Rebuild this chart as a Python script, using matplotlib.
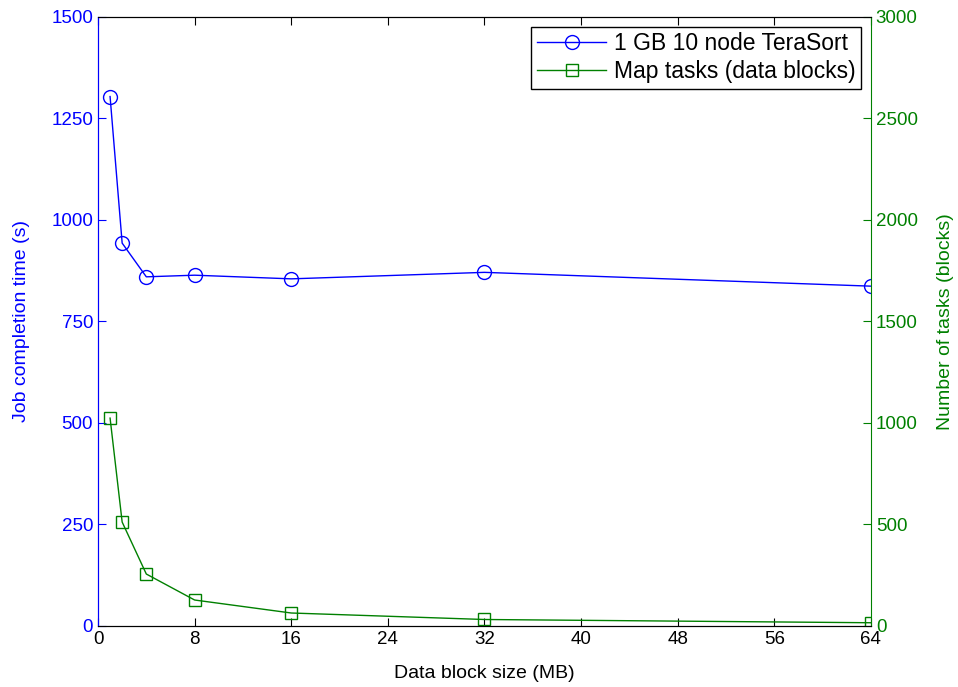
import matplotlib
matplotlib.use('Agg')
import matplotlib.pyplot as plt

plt.rcParams['font.family'] = ['Liberation Sans', 'DejaVu Sans']

# block sizes (MB) and measurements
block_mb = [1, 2, 4, 8, 16, 32, 64]
job_time = [1304, 943, 860, 864, 855, 871, 837]
map_tasks = [1024, 512, 256, 128, 64, 32, 16]

blue = '#0000ff'
green = '#008000'

fig = plt.figure(figsize=(9.58, 6.87), dpi=100)
ax = fig.add_axes([0.1023, 0.0888, 0.8068, 0.8865])
ax2 = ax.twinx()

l1, = ax.plot(block_mb, job_time, color=blue, lw=1, marker='o', markersize=10,
              markerfacecolor='none', markeredgecolor=blue, label='1 GB 10 node TeraSort')
l2, = ax2.plot(block_mb, map_tasks, color=green, lw=1, marker='s', markersize=8.5,
               markerfacecolor='none', markeredgecolor=green, label='Map tasks (data blocks)')

ax.set_xlim(0, 64)
ax.set_xticks(range(0, 65, 8))
ax.set_ylim(0, 1500)
ax.set_yticks(range(0, 1501, 250))
ax2.set_ylim(0, 3000)
ax2.set_yticks(range(0, 3001, 500))

ax.set_xlabel('Data block size (MB)', fontsize=14, labelpad=12)
ax.set_ylabel('Job completion time (s)', fontsize=14, color=blue, labelpad=15)
ax2.set_ylabel('Number of tasks (blocks)', fontsize=14, color=green, labelpad=14)

ax.tick_params(axis='x', direction='in', labelsize=13.5, length=6, top=True)
ax.tick_params(axis='y', direction='in', labelsize=13.5, length=6, colors=blue)
ax2.tick_params(axis='y', direction='in', labelsize=13.5, length=6, colors=green)

ax.spines['left'].set_color(blue)
ax2.spines['left'].set_color(blue)
ax2.spines['right'].set_color(green)
ax.spines['right'].set_visible(False)

leg = ax.legend(handles=[l1, l2], loc='upper right', fontsize=16.5, fancybox=False,
                edgecolor='black', framealpha=1, borderaxespad=0.42, handlelength=3.0,
                handletextpad=0.35, borderpad=0.25, labelspacing=0.2)
leg.get_frame().set_linewidth(1)

fig.savefig('out.png', dpi=100)
